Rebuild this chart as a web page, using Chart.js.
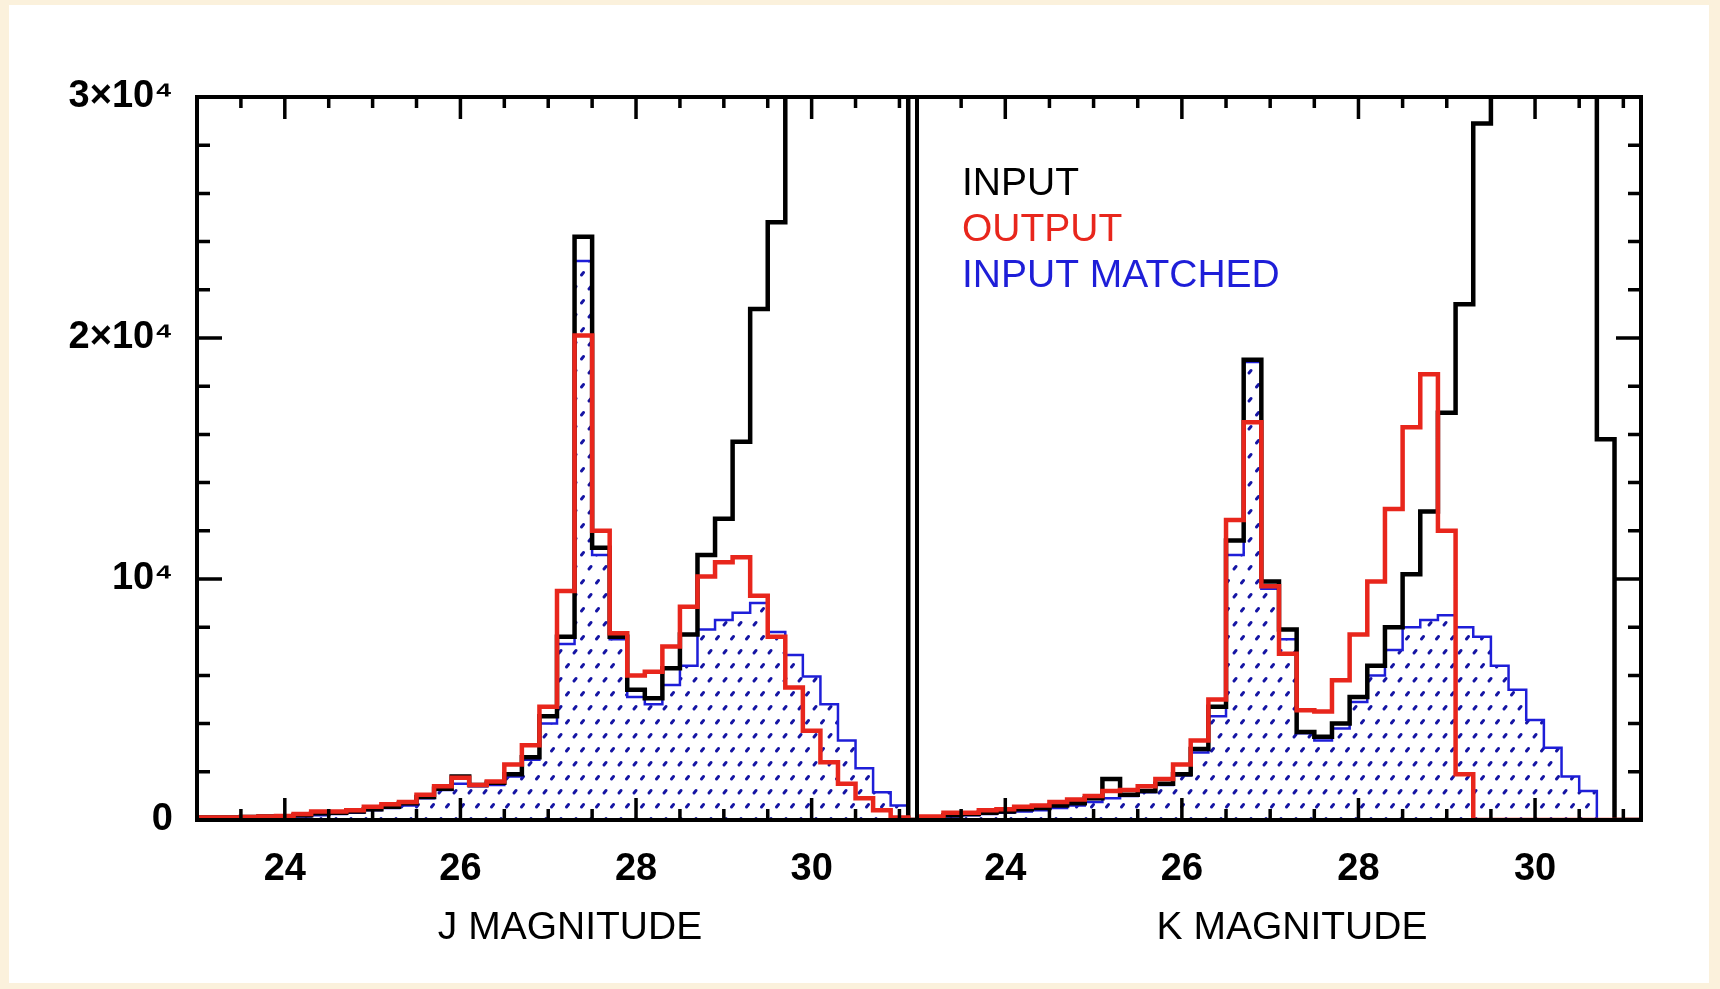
<!DOCTYPE html>
<html>
<head>
<meta charset="utf-8">
<title>J and K magnitude histograms</title>
<script src="https://cdn.jsdelivr.net/npm/chart.js@4.4.1/dist/chart.umd.min.js"></script>
<style>
  html, body { margin: 0; padding: 0; width: 1720px; height: 989px; background: #fbf1dc; overflow: hidden; }
  #sheet { position: absolute; left: 9px; top: 5px; width: 1700px; height: 978px; background: #fff; }
  #chartJ { position: absolute; left: 0; top: 0; }
  #chartK { position: absolute; left: 900px; top: 0; }
</style>
</head>
<body>
<div id="sheet"></div>
<canvas id="chartJ" width="940" height="989"></canvas>
<canvas id="chartK" width="820" height="989"></canvas>
<script>
// histograms of input / recovered magnitudes, 0.2 mag bins

Chart.defaults.font.family = "'Liberation Sans', Arial, sans-serif";
Chart.defaults.color = '#000';

const RED  = '#e8261c';
const BLUE = '#1e1ed8';
const DOT  = '#1515a4';

// bin centres (mag), each bin 0.2 wide
const magBins = [
  23.0, 23.2, 23.4, 23.6, 23.8, 24.0, 24.2, 24.4, 24.6, 24.8,
  25.0, 25.2, 25.4, 25.6, 25.8, 26.0, 26.2, 26.4, 26.6, 26.8,
  27.0, 27.2, 27.4, 27.6, 27.8, 28.0, 28.2, 28.4, 28.6, 28.8,
  29.0, 29.2, 29.4, 29.6, 29.8, 30.0, 30.2, 30.4, 30.6, 30.8,
  31.0, 31.2
];
const BIN_HALF = 0.1;

const magTicks = [24, 26, 28, 30];
const countTicks = [0, 10000, 20000, 30000];
const countLabels = ['0', '10\u2074', '2\u00d710\u2074', '3\u00d710\u2074'];

// J band
const jInput = [
  100, 100, 100, 120, 150, 150, 200, 280, 300, 350,
  450, 550, 700, 950, 1300, 1800, 1450, 1550, 1900, 2600,
  4300, 7600, 24200, 11300, 7600, 5400, 5050, 6300, 7700, 11000,
  12500, 15700, 21200, 24800, 33000, 37000, 41000, 44000, 46000, 47000,
  47500, 0
];
const jOutput = [
  100, 100, 100, 120, 150, 170, 250, 350, 350, 400,
  550, 650, 750, 1050, 1400, 1750, 1450, 1600, 2300, 3100,
  4700, 9500, 20100, 12000, 7750, 6000, 6150, 7200, 8850, 10100,
  10700, 10900, 9300, 7600, 5500, 3700, 2400, 1500, 900, 400,
  100, 0
];
const jMatched = [
  50, 50, 50, 80, 100, 100, 150, 200, 250, 300,
  400, 500, 600, 900, 1250, 1500, 1400, 1450, 1800, 2500,
  4000, 7300, 23200, 11000, 7500, 5100, 4800, 5600, 6400, 7900,
  8300, 8600, 9000, 7800, 6850, 5950, 4800, 3300, 2150, 1150,
  600, 0
];

// K band
const kInput = [
  100, 100, 200, 250, 300, 350, 450, 500, 600, 700,
  900, 1700, 1050, 1200, 1500, 1900, 2950, 4700, 11600, 19100,
  9900, 7900, 3650, 3450, 4000, 5100, 6400, 8000, 10200, 12800,
  16900, 21400, 28900, 32000, 35000, 37000, 38000, 38500, 37000, 15800,
  0, 0
];
const kOutput = [
  150, 150, 300, 300, 400, 450, 550, 600, 750, 850,
  1000, 1200, 1250, 1400, 1700, 2300, 3300, 5000, 12450, 16500,
  9700, 6900, 4550, 4500, 5800, 7700, 9900, 12900, 16300, 18500,
  12000, 1900, 0, 0, 0, 0, 0, 0, 0, 0,
  0, 0
];
const kMatched = [
  50, 100, 150, 200, 250, 300, 350, 400, 500, 600,
  750, 900, 1000, 1150, 1450, 1850, 2800, 4300, 11000, 19000,
  9600, 7500, 3600, 3300, 3800, 4900, 6000, 7050, 8000, 8300,
  8500, 8000, 7600, 6400, 5400, 4150, 3000, 1800, 1200, 0,
  0, 0
];

// left-edge points for a step line, plus one closing point at the last right edge
function steps(values) {
  const pts = values.map((v, i) => ({ x: magBins[i] - BIN_HALF, y: v }));
  pts.push({ x: magBins[magBins.length - 1] + BIN_HALF, y: values[values.length - 1] });
  return pts;
}

// dotted shading for the matched histogram
function dotPattern() {
  const c = document.createElement('canvas');
  c.width = 15; c.height = 28;
  const g = c.getContext('2d');
  g.strokeStyle = DOT;
  g.lineWidth = 2.9;
  g.lineCap = 'round';
  g.beginPath();
  g.moveTo(4, 9); g.lineTo(6, 6.5);
  g.moveTo(11.5, 23); g.lineTo(13.5, 20.5);
  g.stroke();
  return g.createPattern(c, 'repeat');
}

// box frame with inward ticks on the sides that carry them, plus the axis title
const frameTicks = {
  id: 'frameTicks',
  afterDatasetsDraw(chart, args, opts) {
    const { ctx, chartArea: a, scales: { x, y } } = chart;
    ctx.save();
    ctx.strokeStyle = '#000';
    ctx.lineCap = 'butt';
    ctx.lineWidth = 3.5;
    ctx.beginPath();
    for (let k = Math.ceil(x.min * 2); k <= Math.floor(x.max * 2); k++) {
      const m = k / 2;
      const px = x.getPixelForValue(m);
      const len = (m % 2 === 0) ? 22 : 11;
      ctx.moveTo(px, a.top); ctx.lineTo(px, a.top + len);
      ctx.moveTo(px, a.bottom); ctx.lineTo(px, a.bottom - len);
    }
    for (let v = 2000; v < y.max; v += 2000) {
      const py = y.getPixelForValue(v);
      const len = (v % 10000 === 0) ? 25 : 13;
      if (opts.side === 'left') { ctx.moveTo(a.left, py); ctx.lineTo(a.left + len, py); }
      else { ctx.moveTo(a.right, py); ctx.lineTo(a.right - len, py); }
    }
    ctx.stroke();
    ctx.lineWidth = 4;
    ctx.strokeRect(a.left, a.top, a.right - a.left, a.bottom - a.top);

    ctx.fillStyle = '#000';
    ctx.font = "39px 'Liberation Sans', Arial, sans-serif";
    ctx.textAlign = 'center';
    ctx.textBaseline = 'middle';
    ctx.fillText(opts.title, (a.left + a.right) / 2 + 13, a.bottom + 108);
    ctx.restore();
  }
};

// plain coloured labels inside the plot
const legendText = {
  id: 'legendText',
  afterDraw(chart, args, opts) {
    if (!opts.show) return;
    const { ctx, chartArea: a } = chart;
    ctx.save();
    ctx.font = "39px 'Liberation Sans', Arial, sans-serif";
    ctx.textBaseline = 'middle';
    ctx.textAlign = 'left';
    chart.data.datasets.forEach((ds, i) => {
      ctx.fillStyle = ds.borderColor;
      ctx.fillText(ds.label, a.left + opts.dx, a.top + opts.dy + i * opts.gap);
    });
    ctx.restore();
  }
};

function makeDatasets(input, output, matched, pattern) {
  return [
    { label: 'INPUT', data: steps(input), borderColor: '#000', borderWidth: 4.5,
      stepped: 'before', fill: false, pointRadius: 0, order: 2 },
    { label: 'OUTPUT', data: steps(output), borderColor: RED, borderWidth: 4.5,
      stepped: 'before', fill: false, pointRadius: 0, order: 1 },
    { label: 'INPUT MATCHED', data: steps(matched), borderColor: BLUE, borderWidth: 2.5,
      backgroundColor: pattern, stepped: 'before', fill: 'origin', pointRadius: 0, order: 3 }
  ];
}

function renderPanel(id, title, input, output, matched, side, padding) {
  const canvas = document.getElementById(id);
  const pattern = dotPattern();
  const withLabels = side === 'left';
  return new Chart(canvas, {
    type: 'line',
    data: { datasets: makeDatasets(input, output, matched, pattern) },
    options: {
      responsive: false,
      animation: false,
      layout: { padding },
      plugins: {
        legend: { display: false },
        tooltip: { enabled: false },
        frameTicks: { side, title },
        legendText: withLabels ? { show: false } : { show: true, dx: 45, dy: 87, gap: 46 }
      },
      scales: {
        x: {
          type: 'linear',
          min: 23,
          max: 31.2,
          afterFit(s) { s.height = 169; },
          afterBuildTicks(s) { s.ticks = magTicks.map(v => ({ value: v })); },
          ticks: { font: { size: 38, weight: 'bold' }, color: '#000', padding: 27, maxRotation: 0, autoSkip: false },
          grid: { display: false, drawTicks: false },
          border: { display: false }
        },
        y: {
          display: withLabels,
          min: 0,
          max: 30000,
          afterFit(s) { s.width = withLabels ? 197 : 0; },
          afterBuildTicks(s) { s.ticks = countTicks.map(v => ({ value: v })); },
          ticks: {
            font: { size: 38, weight: 'bold' },
            color: '#000',
            padding: 24,
            callback: (v, i) => countLabels[i]
          },
          grid: { display: false, drawTicks: false },
          border: { display: false }
        }
      }
    },
    plugins: [frameTicks, legendText]
  });
}

renderPanel('chartJ', 'J MAGNITUDE', jInput, jOutput, jMatched, 'left',
  { left: 0, top: 97, right: 23, bottom: 0 });
renderPanel('chartK', 'K MAGNITUDE', kInput, kOutput, kMatched, 'right',
  { left: 17, top: 97, right: 79, bottom: 0 });
</script>
</body>
</html>
